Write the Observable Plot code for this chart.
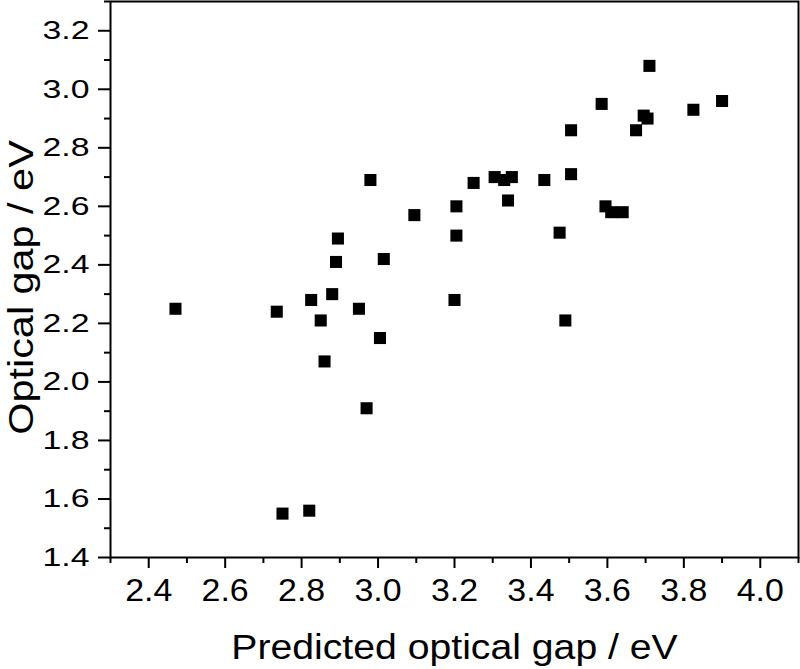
<!DOCTYPE html>
<html>
<head>
<meta charset="utf-8">
<script src="https://cdn.jsdelivr.net/npm/d3@7"></script>
<script src="https://cdn.jsdelivr.net/npm/@observablehq/plot@0.6"></script>
<style>
  html, body { margin: 0; padding: 0; background: #fff; }
  #chart svg { display: block; }
</style>
</head>
<body>
<div id="chart"></div>
<script>
// Data
const predictedGap = [2.47, 2.735, 2.75, 2.82, 2.825, 2.98, 3.25, 3.305, 3.33, 3.35,
  3.34, 3.205, 3.095, 3.205, 2.895, 2.89, 3.015, 2.88, 2.85, 2.95,
  3.20, 3.005, 2.86, 2.97, 3.71, 3.585, 3.90, 3.825, 3.695, 3.705,
  3.675, 3.505, 3.435, 3.505, 3.595, 3.61, 3.64, 3.475, 3.49];
const opticalGap = [2.25, 2.24, 1.55, 1.56, 2.28, 2.69, 2.68, 2.70, 2.69, 2.70,
  2.62, 2.60, 2.57, 2.50, 2.49, 2.41, 2.42, 2.30, 2.21, 2.25,
  2.28, 2.15, 2.07, 1.91, 3.08, 2.95, 2.96, 2.93, 2.91, 2.90,
  2.86, 2.86, 2.69, 2.71, 2.60, 2.58, 2.58, 2.51, 2.21];

const xMajorTicks = [2.4, 2.6, 2.8, 3.0, 3.2, 3.4, 3.6, 3.8, 4.0];
const xMinorTicks = [2.3, 2.5, 2.7, 2.9, 3.1, 3.3, 3.5, 3.7, 3.9, 4.1];
const yMajorTicks = [1.4, 1.6, 1.8, 2.0, 2.2, 2.4, 2.6, 2.8, 3.0, 3.2];
const yMinorTicks = [1.5, 1.7, 1.9, 2.1, 2.3, 2.5, 2.7, 2.9, 3.1, 3.3];
const xTitle = "Predicted optical gap / eV";
const yTitle = "Optical gap / eV";

const points = predictedGap.map((x, i) => ({x, y: opticalGap[i]}));
const fmt = d => d.toFixed(1);

const chart = Plot.plot({
  width: 800,
  height: 669,
  marginLeft: 110,
  marginRight: 2,
  marginTop: 1,
  marginBottom: 112,
  style: {fontFamily: "'Liberation Sans', Arial, sans-serif", color: "black", background: "white"},
  x: {domain: [2.3, 4.1]},
  y: {domain: [1.4, 3.3]},
  marks: [
    Plot.axisX(xMinorTicks, {tickSize: 6, strokeWidth: 2, tickFormat: () => "", label: null}),
    Plot.axisY(yMinorTicks, {tickSize: 6, strokeWidth: 2, tickFormat: () => "", label: null}),
    Plot.axisX(xMajorTicks, {tickSize: 11, tickPadding: 10, strokeWidth: 2, fontSize: 32, tickFormat: fmt, label: null}),
    Plot.axisY(yMajorTicks, {tickSize: 12, tickPadding: 9, strokeWidth: 2, fontSize: 26, tickFormat: fmt, label: null}),
    Plot.frame({stroke: "black", strokeWidth: 2}),
    Plot.dot(points, {x: "x", y: "y", symbol: "square", r: 6.8, fill: "black", stroke: "none"}),
    Plot.text([xTitle], {text: d => d, frameAnchor: "bottom", dy: 90, fontSize: 35, lineAnchor: "middle", textAnchor: "middle", fill: "black"}),
    Plot.text([yTitle], {text: d => d, frameAnchor: "left", rotate: -90, dx: -89, dy: 8, fontSize: 36, lineAnchor: "middle", textAnchor: "middle", fill: "black"})
  ]
});

document.getElementById("chart").appendChild(chart);

// Reference typeface is drawn wider than Arial proportions: stretch text along its direction
function stretch(t, s) {
  const tr = t.getAttribute("transform") || "";
  t.setAttribute("transform", `${tr} scale(${s},1)`);
}
chart.querySelectorAll("text").forEach(t => {
  const content = t.textContent;
  if (!content) return;
  const group = t.parentNode.getAttribute("aria-label") || "";
  let s;
  if (content === xTitle) s = 1.12;
  else if (content === yTitle) s = 1.15;
  else if (group.startsWith("y-axis")) s = 1.3;
  else s = 1.06;
  stretch(t, s);
});
</script>
</body>
</html>
